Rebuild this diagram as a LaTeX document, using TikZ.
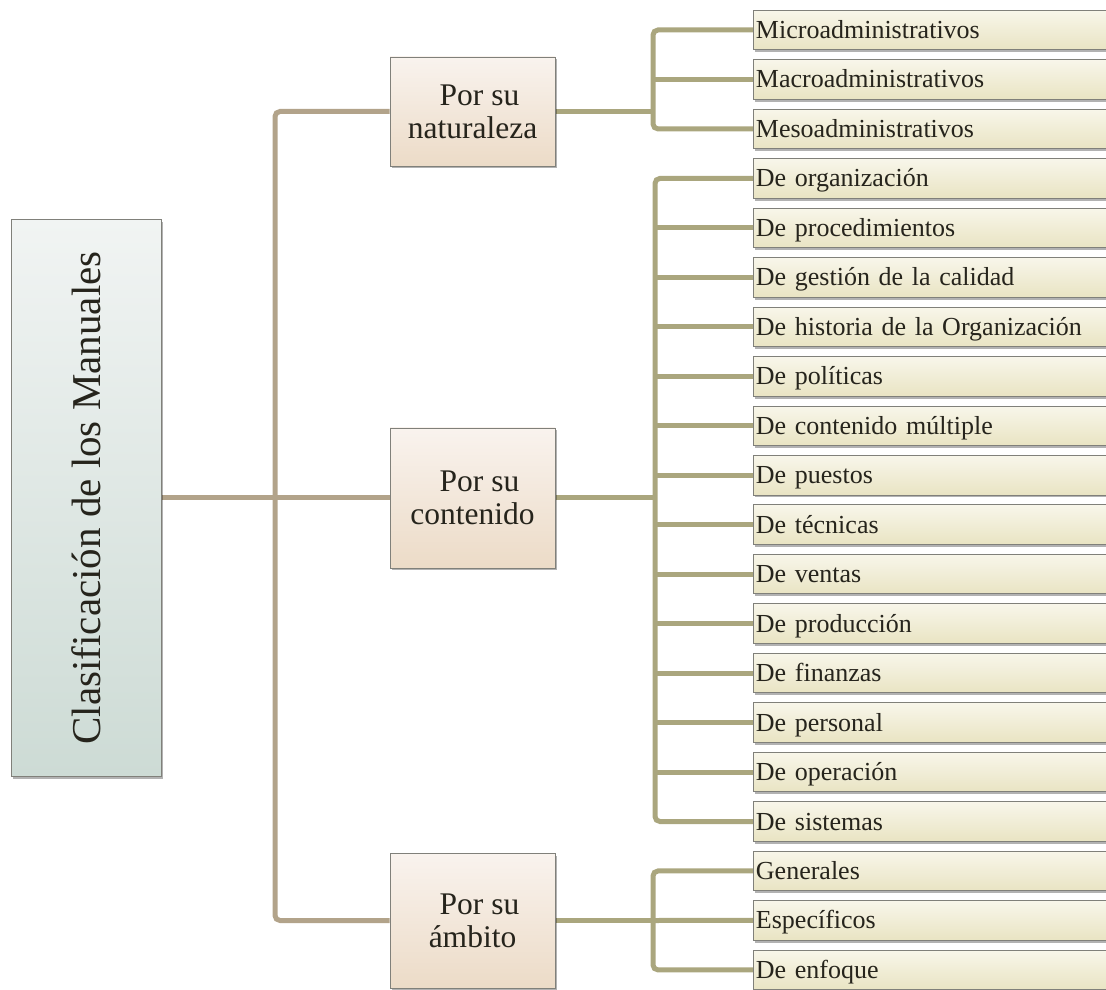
\documentclass[tikz,border=0pt]{standalone}
\usepackage{fontspec}
\usepackage{graphicx}
\setmainfont{Liberation Serif}
\usetikzlibrary{shadows}

\definecolor{lineone}{RGB}{178,163,138}
\definecolor{linetwo}{RGB}{170,166,126}
\definecolor{boxedge}{RGB}{128,128,122}
\definecolor{inkdark}{RGB}{38,36,28}
\definecolor{roottop}{RGB}{241,244,243}
\definecolor{rootbot}{RGB}{205,219,213}
\definecolor{grouptop}{RGB}{249,243,238}
\definecolor{groupbot}{RGB}{236,219,199}
\definecolor{leaftop}{RGB}{248,246,234}
\definecolor{leafbot}{RGB}{233,228,195}

\pgfdeclarelayer{bg}
\pgfsetlayers{bg,main}

\begin{document}
\begin{tikzpicture}[x=1pt,y=1pt,
  every node/.style={text=inkdark},
  boxshadow/.style={drop shadow={shadow xshift=1.5pt, shadow yshift=-2.5pt, opacity=0.3, fill=black}},
  rootbox/.style={draw=boxedge, line width=0.9pt, top color=roottop, bottom color=rootbot,
    minimum width=150pt, minimum height=557pt, inner sep=0pt, boxshadow},
  groupbox/.style={draw=boxedge, line width=0.9pt, top color=grouptop, bottom color=groupbot,
    minimum width=165pt, inner sep=0pt, align=center, font=\fontsize{31.5}{33}\selectfont, boxshadow},
  leafbox/.style={draw=boxedge, line width=0.9pt, top color=leaftop, bottom color=leafbot,
    anchor=west, minimum height=39.5pt, text width=356pt, inner xsep=2.5pt, inner ysep=0pt,
    align=left, font=\fontsize{26}{28}\selectfont, text height=22pt, text depth=5pt, boxshadow},
  lvlone/.style={draw=lineone, line width=5pt, rounded corners=5pt},
  lvltwo/.style={draw=linetwo, line width=5pt, rounded corners=5pt},
]
\clip (0,0) rectangle (1106,989);

% root and the three groups
\node[rootbox] (root) at (86,491)
  {\rotatebox{90}{\fontsize{41}{41}\selectfont Clasificación de los Manuales}};
\node[groupbox, minimum height=109pt] (nat) at (472.5,877.5) {\hspace*{14pt}Por su\\naturaleza};
\node[groupbox, minimum height=140pt] (con) at (472.5,491) {\hspace*{14pt}Por su\\contenido};
\node[groupbox, minimum height=135pt] (amb) at (472.5,68.5) {\hspace*{14pt}Por su\\ámbito};

% leaves, one row every 49.47pt
\foreach \t [count=\i from 0] in {Microadministrativos, Macroadministrativos, Mesoadministrativos,
  De organización, De procedimientos, De gestión de la calidad, De historia de la Organización,
  De políticas, De contenido múltiple, De puestos, De técnicas, De ventas, De producción,
  De finanzas, De personal, De operación, De sistemas, Generales, Específicos, De enfoque}
  \node[leafbox] (leaf\i) at (753,959-49.47*\i) {\t};

% junctions
\coordinate (tr) at (275,491);
\coordinate (nj) at (653,877.5);
\coordinate (cj) at (655,491);
\coordinate (aj) at (653,68.5);

\begin{pgfonlayer}{bg}
  % first level
  \draw[lvlone] (root.east) -- (tr) -- (con.west);
  \draw[lvlone] (nat.west) -| (tr) |- (amb.west);
  % naturaleza
  \draw[lvltwo] (nat.east) -- (nj);
  \draw[lvltwo] (leaf0.west) -| (nj) |- (leaf2.west);
  \draw[lvltwo] (leaf1.west) -- (leaf1.west -| nj);
  % contenido
  \draw[lvltwo] (con.east) -- (cj);
  \draw[lvltwo] (leaf3.west) -| (cj) |- (leaf16.west);
  \foreach \i in {4,...,15}
    \draw[lvltwo] (leaf\i.west) -- (leaf\i.west -| cj);
  % ambito
  \draw[lvltwo] (amb.east) -- (aj);
  \draw[lvltwo] (leaf17.west) -| (aj) |- (leaf19.west);
  \draw[lvltwo] (leaf18.west) -- (aj);
\end{pgfonlayer}
\end{tikzpicture}
\end{document}
